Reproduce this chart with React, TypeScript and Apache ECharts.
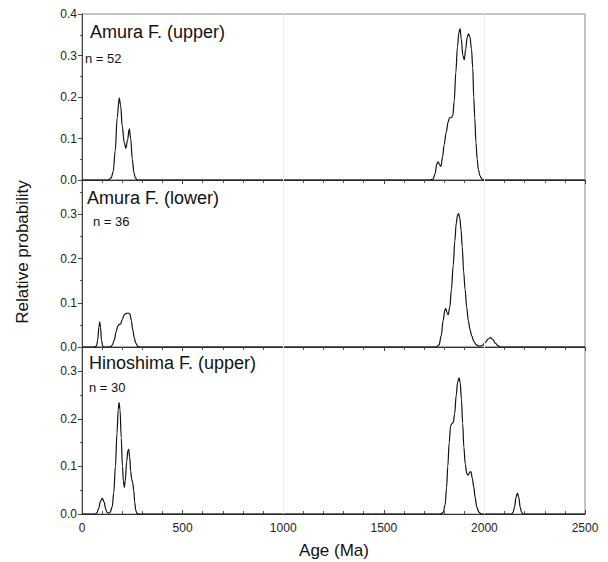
import React, { useEffect, useRef } from "react";
import * as echarts from "echarts";

const panelTitles = ["Amura F. (upper)", "Amura F. (lower)", "Hinoshima F. (upper)"];
const panelCounts = ["n = 52", "n = 36", "n = 30"];
const yMaxes = [0.4, 0.378, 0.351];
const xMin = 0;
const xMax = 2500;
const xInterval = 500;
const yInterval = 0.1;

const amuraUpper: [number, number][] = [
  [0, 0], [130, 0], [145, 0.005], [155, 0.02], [165, 0.07], [175, 0.15], [185, 0.198], [192, 0.18],
  [200, 0.13], [210, 0.09], [218, 0.076], [226, 0.095], [235, 0.123], [242, 0.1], [250, 0.05],
  [258, 0.018], [265, 0.005], [275, 0],
  [1730, 0], [1745, 0.002], [1755, 0.015], [1763, 0.038], [1770, 0.044], [1778, 0.036], [1784, 0.033],
  [1792, 0.055], [1800, 0.085], [1810, 0.115], [1820, 0.14], [1826, 0.15], [1835, 0.15], [1843, 0.155],
  [1850, 0.19], [1858, 0.26], [1866, 0.32], [1873, 0.355], [1879, 0.365], [1885, 0.34], [1893, 0.3],
  [1900, 0.29], [1907, 0.315], [1915, 0.345], [1921, 0.352], [1928, 0.345], [1936, 0.315], [1942, 0.27],
  [1947, 0.2], [1952, 0.15], [1958, 0.09], [1964, 0.05], [1970, 0.025], [1978, 0.01], [1988, 0.002],
  [2000, 0], [2500, 0],
];

const amuraLower: [number, number][] = [
  [0, 0], [60, 0], [72, 0.002], [78, 0.015], [84, 0.045], [88, 0.057], [92, 0.045], [97, 0.015],
  [103, 0.002], [110, 0],
  [140, 0], [150, 0.004], [160, 0.015], [170, 0.035], [178, 0.048], [185, 0.051], [192, 0.052],
  [200, 0.062], [210, 0.073], [220, 0.076], [230, 0.077], [238, 0.075], [245, 0.06], [252, 0.04],
  [260, 0.02], [268, 0.008], [278, 0.001], [290, 0],
  [1760, 0], [1775, 0.005], [1785, 0.025], [1795, 0.06], [1803, 0.083], [1808, 0.087], [1814, 0.078],
  [1820, 0.073], [1828, 0.09], [1836, 0.13], [1845, 0.185], [1853, 0.24], [1860, 0.28], [1866, 0.298],
  [1872, 0.302], [1878, 0.292], [1884, 0.265], [1890, 0.225], [1897, 0.17], [1904, 0.13], [1912, 0.09],
  [1920, 0.06], [1928, 0.04], [1937, 0.025], [1948, 0.012], [1960, 0.005], [1975, 0.002], [1990, 0.004],
  [2005, 0.01], [2018, 0.018], [2030, 0.021], [2042, 0.017], [2055, 0.008], [2068, 0.003], [2080, 0],
  [2500, 0],
];

const hinoshimaUpper: [number, number][] = [
  [0, 0], [65, 0], [75, 0.003], [83, 0.012], [92, 0.027], [101, 0.033], [110, 0.025], [118, 0.01],
  [125, 0.003], [132, 0.002], [140, 0.004], [150, 0.015], [158, 0.045], [166, 0.1], [174, 0.17],
  [180, 0.22], [184, 0.234], [189, 0.22], [195, 0.16], [201, 0.1], [206, 0.068], [210, 0.056],
  [215, 0.07], [222, 0.11], [228, 0.133], [232, 0.136], [237, 0.12], [242, 0.09], [247, 0.073],
  [252, 0.066], [257, 0.05], [262, 0.025], [267, 0.008], [272, 0.002], [280, 0],
  [1780, 0], [1795, 0.003], [1805, 0.02], [1812, 0.055], [1818, 0.1], [1825, 0.15], [1832, 0.185],
  [1838, 0.19], [1845, 0.192], [1852, 0.21], [1860, 0.25], [1867, 0.278], [1874, 0.286], [1880, 0.275],
  [1886, 0.24], [1892, 0.19], [1898, 0.14], [1905, 0.105], [1912, 0.085], [1920, 0.082], [1927, 0.088],
  [1933, 0.089], [1940, 0.075], [1947, 0.057], [1954, 0.035], [1962, 0.015], [1972, 0.004], [1985, 0],
  [2135, 0], [2143, 0.004], [2150, 0.015], [2157, 0.035], [2164, 0.044], [2171, 0.035], [2178, 0.014],
  [2185, 0.003], [2192, 0], [2500, 0],
];

const curves = [amuraUpper, amuraLower, hinoshimaUpper];
const gridLineAges = [1000, 2000];

const FONT = "'Liberation Sans', Arial, sans-serif";

export default function App() {
  const ref = useRef<HTMLDivElement>(null);
  useEffect(() => {
    if (!ref.current) return;
    const chart = echarts.init(ref.current, undefined, { renderer: "svg" });
    const tops = [14, 180, 347];
    const heights = [166, 167, 167];
    const grids = tops.map((top, i) => ({
      left: 82,
      width: 503,
      top,
      height: heights[i],
      show: true,
      borderColor: "#8a8a8a",
      borderWidth: 1,
      backgroundColor: "transparent",
    }));
    const xAxes = tops.map((_, i) => ({
      type: "value",
      gridIndex: i,
      min: xMin,
      max: xMax,
      interval: xInterval,
      axisLine: { show: true, lineStyle: { color: "#333", width: 1 } },
      axisTick: { show: true, inside: i === 2, length: 4, lineStyle: { color: "#444" } },
      minorTick: { show: true, splitNumber: 5, length: 3, lineStyle: { color: "#555" } },
      axisLabel: {
        show: i === 2,
        color: "#222",
        fontSize: 12,
        fontFamily: FONT,
        margin: 8,
        formatter: (v: number) => String(v),
      },
      splitLine: { show: false },
    }));
    const yAxes = tops.map((_, i) => ({
      type: "value",
      gridIndex: i,
      min: 0,
      max: yMaxes[i],
      interval: yInterval,
      axisLine: { show: true, lineStyle: { color: "#444", width: 1 } },
      axisTick: { show: true, length: 4, lineStyle: { color: "#444" } },
      minorTick: { show: true, splitNumber: 2, length: 2, lineStyle: { color: "#555" } },
      axisLabel: {
        color: "#222",
        fontSize: 12,
        fontFamily: FONT,
        margin: 5,
        formatter: (v: number) => {
          const r = Math.round(v * 10);
          return Math.abs(v * 10 - r) < 1e-6 ? (r / 10).toFixed(1) : "";
        },
      },
      splitLine: { show: false },
    }));
    const series = curves.map((data, i) => ({
      type: "line",
      xAxisIndex: i,
      yAxisIndex: i,
      data,
      showSymbol: false,
      smooth: 0.35,
      smoothMonotone: "x",
      clip: true,
      lineStyle: { color: "#111", width: 1.2 },
      markLine: {
        silent: true,
        symbol: "none",
        label: { show: false },
        lineStyle: { color: "#ebebeb", width: 1, type: "solid" },
        data: gridLineAges.map((a) => ({ xAxis: a })),
      },
      z: 3,
    }));
    const titleYs = [32, 198, 363];
    const titleXs = [90, 87, 89];
    const countYs = [58, 221, 387];
    const countXs = [85, 93, 89];
    const graphics: any[] = [];
    panelTitles.forEach((t, i) => {
      graphics.push({
        type: "text",
        x: titleXs[i],
        y: titleYs[i],
        style: { text: t, fontSize: 18, fontFamily: FONT, fill: "#111", verticalAlign: "middle", align: "left" },
        z: 10,
      });
      graphics.push({
        type: "text",
        x: countXs[i],
        y: countYs[i],
        style: { text: panelCounts[i], fontSize: 13, fontFamily: FONT, fill: "#111", verticalAlign: "middle", align: "left" },
        z: 10,
      });
    });
    graphics.push({
      type: "text",
      x: 22,
      y: 252,
      rotation: Math.PI / 2,
      style: { text: "Relative probability", fontSize: 17, fontFamily: FONT, fill: "#111", align: "center", verticalAlign: "middle" },
    });
    graphics.push({
      type: "text",
      x: 334,
      y: 550,
      style: { text: "Age (Ma)", fontSize: 17, fontFamily: FONT, fill: "#111", align: "center", verticalAlign: "middle" },
    });
    chart.setOption({
      animation: false,
      backgroundColor: "#fff",
      grid: grids,
      xAxis: xAxes,
      yAxis: yAxes,
      series,
      graphic: graphics,
    });
    return () => chart.dispose();
  }, []);
  return (
    <div
      ref={ref}
      style={{ position: "fixed", left: 0, top: 0, width: 608, height: 562, background: "#fff" }}
    />
  );
}
